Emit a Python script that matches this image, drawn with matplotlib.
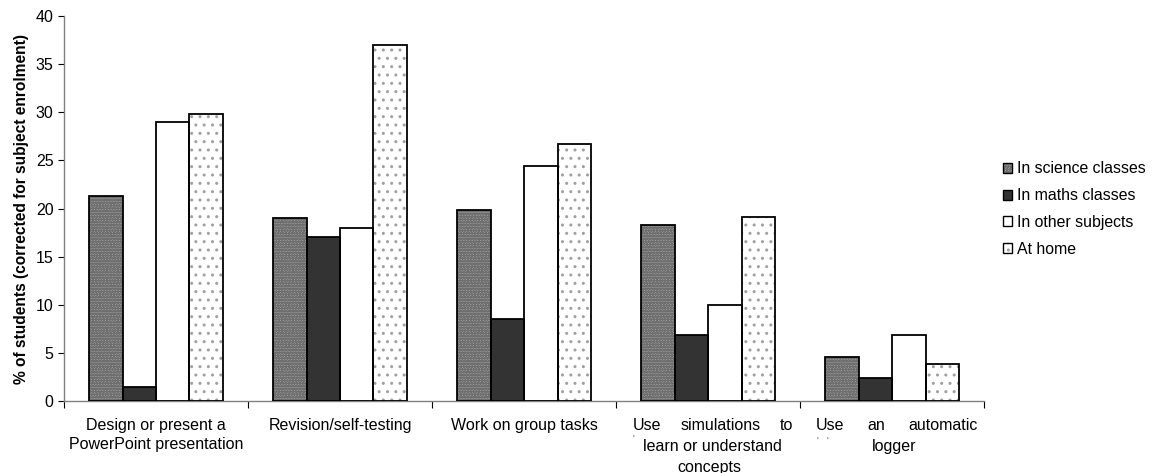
import numpy as np
import matplotlib
matplotlib.use("Agg")
import matplotlib.pyplot as plt
from matplotlib.patches import Patch

plt.rcParams['font.family'] = ['Liberation Sans', 'DejaVu Sans']

categories = [
    "Design or present a\nPowerPoint presentation",
    "Revision/self-testing",
    "Work on group tasks",
    "Use simulations to learn or understand concepts",
    "Use an automatic logger",
]
series_names = ["In science classes", "In maths classes", "In other subjects", "At home"]
science = [21.3, 19.0, 19.9, 18.3, 4.6]
maths = [1.5, 17.0, 8.5, 6.9, 2.4]
other = [29.0, 18.0, 24.4, 10.0, 6.9]
home = [29.8, 37.0, 26.7, 19.1, 3.9]
yticks = [0, 5, 10, 15, 20, 25, 30, 35, 40]

values = [science, maths, other, home]
faces = ["#a6a6a6", "#333333", "white", "white"]
hatches = ["oooooo", None, None, ".."]
hatch_cols = ["#6e6e6e", None, None, "#a0a0a0"]

fig = plt.figure(figsize=(11.55, 4.73), dpi=100)
ax = fig.add_axes([0.0554, 0.152, 0.7966, 0.814])

x = np.arange(len(categories))
w = 0.182
for i, vals in enumerate(values):
    pos = x + (i - 1.5) * w
    ax.bar(pos, vals, w, color=faces[i], edgecolor="none", linewidth=0, zorder=2)
    if hatches[i]:
        ax.bar(pos, vals, w, color="none", edgecolor=hatch_cols[i], hatch=hatches[i],
               linewidth=0, zorder=3)
    ax.bar(pos, vals, w, color="none", edgecolor="black", linewidth=1.3, zorder=4)

ax.set_xlim(-0.5, len(categories) - 0.5)
ax.set_ylim(0, 40)
ax.set_yticks(yticks)
ax.tick_params(axis="y", labelsize=11.5, length=4, width=0.8, direction="out", colors="black")
ax.set_xticks(np.arange(-0.5, len(categories)))
ax.set_xticklabels([])
ax.tick_params(axis="x", length=5, width=0.8, direction="out")
for s in ["top", "right"]:
    ax.spines[s].set_visible(False)
ax.spines["left"].set_color("#808080")
ax.spines["bottom"].set_color("#808080")
ax.spines["left"].set_linewidth(1.0)
ax.spines["bottom"].set_linewidth(1.0)

ax.set_ylabel("% of students (corrected for subject enrolment)", fontsize=11.2,
              fontweight="bold", labelpad=5)

# category labels below the axis
trans = ax.get_xaxis_transform()
fs = 11.5
y1, y2, y3 = -0.044, -0.098, -0.152
ax.text(0, y1, categories[0], transform=trans, ha="center", va="top",
        fontsize=fs, linespacing=1.33)
ax.text(1, y1, categories[1], transform=trans, ha="center", va="top", fontsize=fs)
ax.text(2, y1, categories[2], transform=trans, ha="center", va="top", fontsize=fs)

# justified lines for the last two categories
ax.text(2.592, y1, "Use", transform=trans, ha="left", va="top", fontsize=fs)
ax.text(3.071, y1, "simulations", transform=trans, ha="center", va="top", fontsize=fs)
ax.text(3.462, y1, "to", transform=trans, ha="right", va="top", fontsize=fs)
ax.text(3.022, y2, "learn or understand", transform=trans, ha="center", va="top", fontsize=fs)
ax.text(3.005, y3, "concepts", transform=trans, ha="center", va="top", fontsize=fs)

ax.text(3.587, y1, "Use", transform=trans, ha="left", va="top", fontsize=fs)
ax.text(3.913, y1, "an", transform=trans, ha="center", va="top", fontsize=fs)
ax.text(4.467, y1, "automatic", transform=trans, ha="right", va="top", fontsize=fs)
ax.text(4.011, y2, "logger", transform=trans, ha="center", va="top", fontsize=fs)

# small stray marks left of the second lines
ax.text(2.59, y2 + 0.01, "'", transform=trans, ha="left", va="top", fontsize=7, color="#555555")
ax.text(3.59, y2 + 0.005, "'   '", transform=trans, ha="left", va="top", fontsize=7, color="#555555")

handles = []
for i in range(4):
    base = Patch(facecolor=faces[i], edgecolor=hatch_cols[i] or "none",
                 hatch=hatches[i], linewidth=0)
    outline = Patch(facecolor="none", edgecolor="black", linewidth=1.0)
    handles.append((base, outline))
fig.legend(handles, series_names, loc="center left", bbox_to_anchor=(0.868, 0.558),
           frameon=False, fontsize=11.4, handlelength=0.6, handleheight=0.6,
           handletextpad=0.3, labelspacing=0.74, borderpad=0, borderaxespad=0)

fig.savefig("out.png", dpi=100)
